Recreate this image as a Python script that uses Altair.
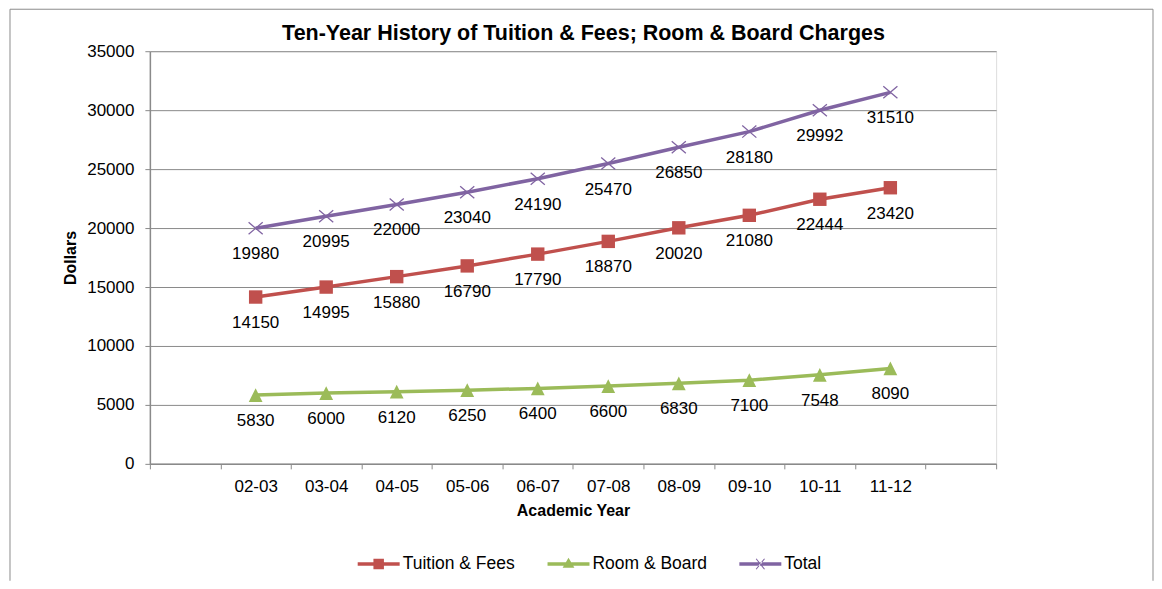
import altair as alt
import pandas as pd

years = ["02-03", "03-04", "04-05", "05-06", "06-07", "07-08", "08-09", "09-10", "10-11", "11-12"]
tuition = [14150, 14995, 15880, 16790, 17790, 18870, 20020, 21080, 22444, 23420]
room = [5830, 6000, 6120, 6250, 6400, 6600, 6830, 7100, 7548, 8090]
total = [19980, 20995, 22000, 23040, 24190, 25470, 26850, 28180, 29992, 31510]
series_names = ["Tuition & Fees", "Room & Board", "Total"]
series_colors = ["#C0504D", "#9BBB59", "#8064A2"]
y_ticks = [0, 5000, 10000, 15000, 20000, 25000, 30000, 35000]
x_domain = [""] + years + [" "]

rows = []
for name, vals in zip(series_names, [tuition, room, total]):
    for yr, v in zip(years, vals):
        rows.append({"year": yr, "series": name, "value": v})
df = pd.DataFrame(rows)

FONT = "Liberation Sans"
GRAY = "#8a8a8a"
FRAME = "#8c8c8c"

# marker shapes
SQUARE = "M-1,-1H1V1H-1Z"
TRIANGLE = "M0,-1L1,1H-1Z"
XMARK = "M-1,-0.85L1,0.85M-1,0.85L1,-0.85"
marker_shapes = [SQUARE, TRIANGLE, XMARK]
marker_filled = [True, True, False]
marker_sizes = [180, 190, 200]

# legend symbols: line segment + marker
LG_LINE = "M-1,-0.08H1V0.08H-1Z"
LG_SQUARE = LG_LINE + "M-0.25,-0.25H0.25V0.25H-0.25Z"
LG_TRI = LG_LINE + "M0,-0.3L0.28,0.18H-0.28Z"
LG_X = (LG_LINE +
        "M-0.18,-0.266L0.22,0.234L0.18,0.266L-0.22,-0.234Z"
        "M-0.18,0.266L0.22,-0.234L0.18,-0.266L-0.22,0.234Z")
legend_paths = [LG_SQUARE, LG_TRI, LG_X]

x_enc = alt.X(
    "year:N",
    sort=x_domain,
    scale=alt.Scale(type="band", domain=x_domain, paddingInner=0, paddingOuter=0),
    axis=alt.Axis(
        title="Academic Year", labelAngle=0, tickBand="extent", grid=False,
        labelFont=FONT, labelFontSize=17, labelColor="black", labelPadding=10,
        tickSize=5, tickColor=GRAY, domainColor=GRAY, domainWidth=1.5,
        titleFont=FONT, titleFontSize=16, titleFontWeight="bold", titleColor="black",
        titlePadding=8,
    ),
)
y_enc = alt.Y(
    "value:Q",
    scale=alt.Scale(domain=[0, 35000], nice=False, zero=True),
    axis=alt.Axis(
        title="Dollars", values=y_ticks, format="d",
        labelFont=FONT, labelFontSize=17, labelColor="black", labelPadding=11,
        tickSize=5, tickColor=GRAY, domainColor=GRAY, domainWidth=1.5,
        gridColor=GRAY, gridWidth=1,
        titleFont=FONT, titleFontSize=16, titleFontWeight="bold", titleColor="black",
        titlePadding=8,
    ),
)

base = alt.Chart(df)

series_layers = []
for name, col in zip(series_names, series_colors):
    sub = base.transform_filter(alt.datum.series == name)
    series_layers.append(sub.mark_line(strokeWidth=3.5, color=col).encode(x=x_enc, y=y_enc))
for name, col, shp, fil, sz in zip(series_names, series_colors, marker_shapes,
                                    marker_filled, marker_sizes):
    sub = base.transform_filter(alt.datum.series == name)
    series_layers.append(sub.mark_point(
        shape=shp, filled=fil, size=sz, color=col, opacity=1,
        strokeWidth=(1.3 if not fil else 0)
    ).encode(x=x_enc, y=y_enc))

labels = base.mark_text(dy=26, fontSize=17, font=FONT, color="black").encode(
    x=x_enc, y=y_enc, text=alt.Text("value:Q", format="d")
)

lg_props = dict(
    title=None, orient="none", legendX=208, legendY=492, direction="horizontal",
    symbolSize=1764, symbolStrokeWidth=0, symbolOpacity=1,
    labelFont=FONT, labelFontSize=17.5, labelColor="black", labelOffset=3,
    columnPadding=32,
)
legend_layer = base.transform_filter("false").mark_point(filled=True, opacity=1).encode(
    x=x_enc, y=y_enc,
    color=alt.Color("series:N", scale=alt.Scale(domain=series_names, range=series_colors),
                    legend=alt.Legend(**lg_props)),
    shape=alt.Shape("series:N", scale=alt.Scale(domain=series_names, range=legend_paths),
                    legend=alt.Legend(**lg_props)),
)

one = pd.DataFrame({"k": [0]})
frame_left = alt.Chart(one).mark_rule(color=FRAME, strokeWidth=1).encode(
    x=alt.value(-140), y=alt.value(-42), y2=alt.value(530))
frame_right = alt.Chart(one).mark_rule(color=FRAME, strokeWidth=1).encode(
    x=alt.value(1004), y=alt.value(-42), y2=alt.value(530))
frame_top = alt.Chart(one).mark_rule(color=FRAME, strokeWidth=1).encode(
    x=alt.value(-140), x2=alt.value(1004), y=alt.value(-42))

chart = alt.layer(
    frame_left, frame_right, frame_top,
    *series_layers, labels, legend_layer,
).properties(
    width=847, height=413,
    padding={"left": 1, "top": 0, "right": 0, "bottom": 0},
    title=alt.TitleParams(
        "Ten-Year History of Tuition & Fees; Room & Board Charges",
        font=FONT, fontSize=21.5, fontWeight="bold", color="black",
        anchor="middle", frame="bounds", offset=-36, dx=2,
    ),
).configure_view(stroke=None).configure(background="white")

chart.save("out.html", embed_options={"renderer": "svg", "actions": False})
